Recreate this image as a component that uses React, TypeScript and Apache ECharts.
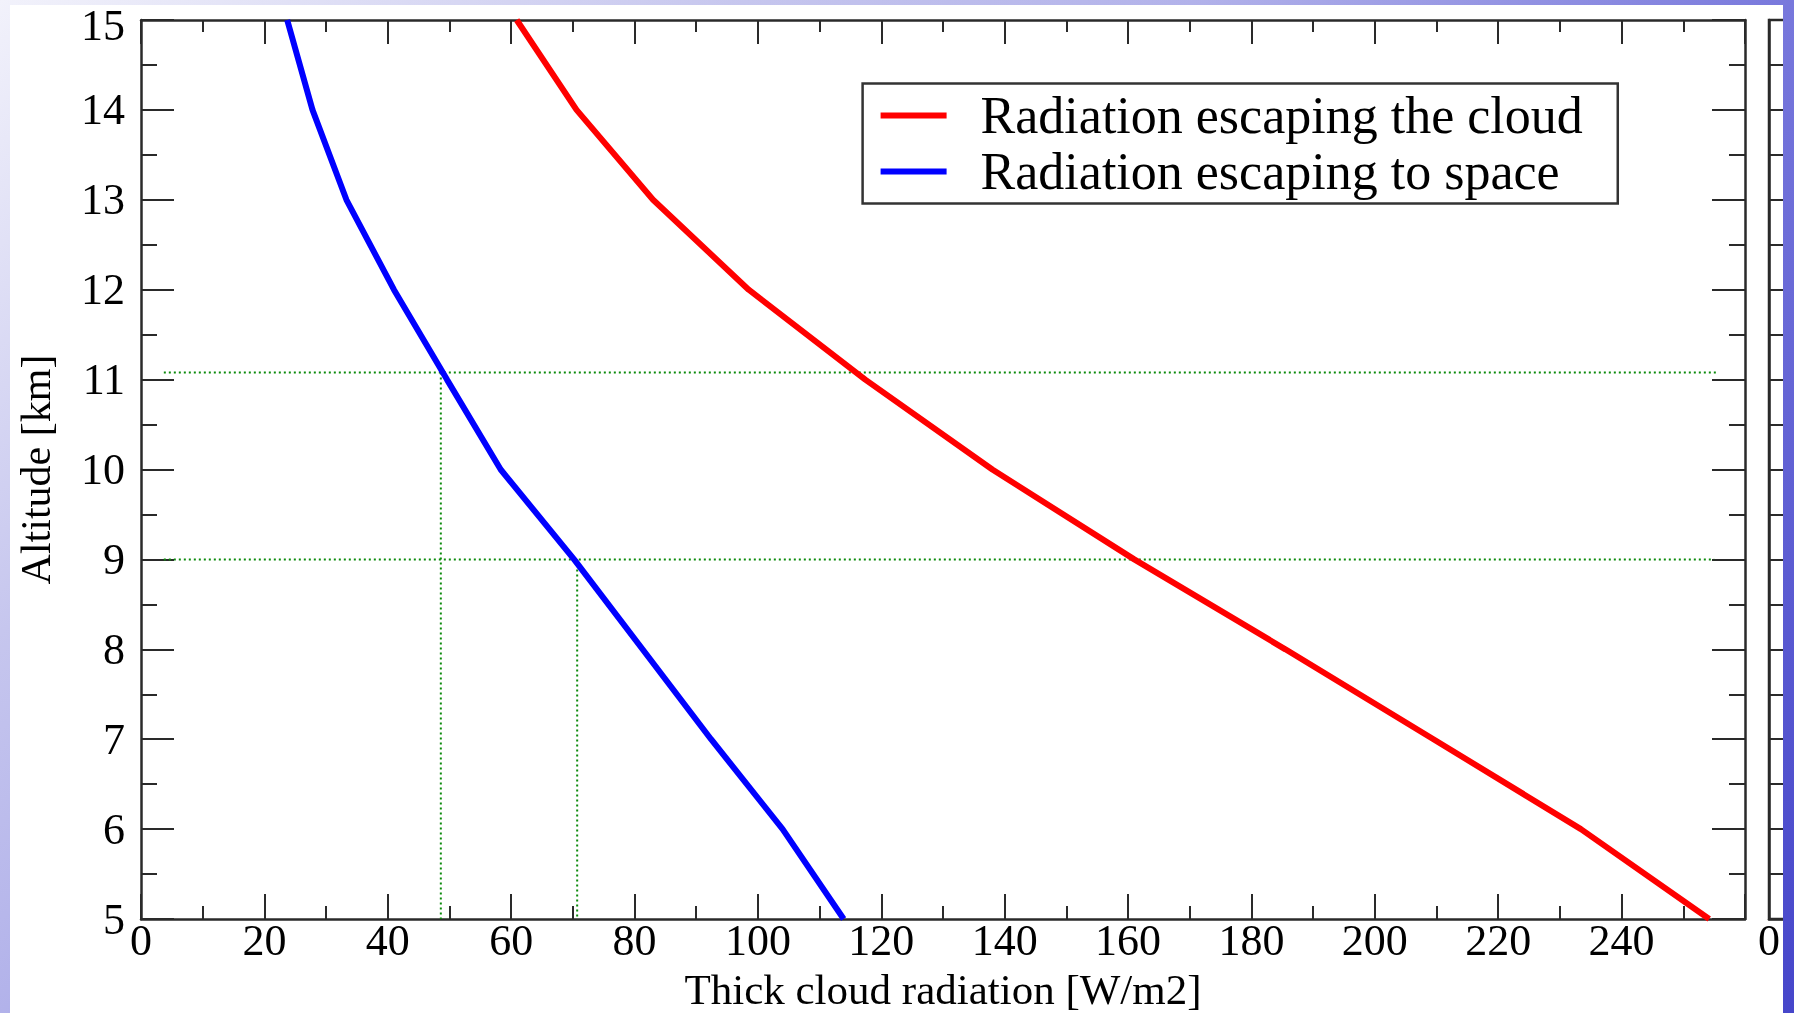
import React, { useEffect, useRef } from "react";
import * as echarts from "echarts";

// Altitude levels [km]
const ALTITUDE = [15, 14, 13, 12, 11, 10, 9, 8, 7, 6, 5];
// Radiation escaping the cloud [W/m2]
const CLOUD = [60.9, 70.6, 83.0, 98.5, 117.4, 138.0, 161.0, 185.5, 209.5, 233.4, 254.2];
// Radiation escaping to space [W/m2]
const SPACE = [23.7, 27.8, 33.3, 41.0, 49.6, 58.3, 70.2, 81.3, 92.4, 104.0, 113.9];

const SERIES_NAMES = ["Radiation escaping the cloud", "Radiation escaping to space"];

// Green dotted guide lines
const GUIDE_ALT = [11.08, 9.0];
const GUIDE_X = [48.6, 70.7];
const GUIDE_H_START = [3.7, 3.7];
const GUIDE_H_END = [255.6, 255.0];

const X_MIN = 0;
const X_MAX = 260;
const X_STEP = 20;
const Y_MIN = 5;
const Y_MAX = 15;
const Y_STEP = 1;

const FONT = "'Liberation Serif', 'Times New Roman', serif";
const AXIS_COLOR = "#2a2a2a";
const TICK_FONT = 44;

export default function App() {
  const ref = useRef<HTMLDivElement>(null);

  useEffect(() => {
    if (!ref.current) return;
    const chart = echarts.init(ref.current, null, { renderer: "svg", width: 1794, height: 1013 });

    const bgGradient = () =>
      new echarts.graphic.LinearGradient(
        0,
        0,
        1249,
        1475,
        [
          { offset: 0, color: "#f2f2fb" },
          { offset: 0.25, color: "#c6c6ee" },
          { offset: 0.4, color: "#b2b2ea" },
          { offset: 0.6, color: "#7878dc" },
          { offset: 1, color: "#4646ca" },
        ],
        true
      );

    const lineAxisStyle = { show: true, onZero: false, lineStyle: { color: AXIS_COLOR, width: 2.5 } };
    const tickStyle = { color: AXIS_COLOR, width: 2 };

    const guideSeries: any[] = [];
    GUIDE_ALT.forEach((a, i) => {
      guideSeries.push({
        type: "line",
        data: [
          [GUIDE_H_START[i], a],
          [GUIDE_H_END[i], a],
        ],
        symbol: "none",
        silent: true,
        lineStyle: { color: "#0b8a0b", width: 2, type: [2, 3] },
        z: 1,
      });
      guideSeries.push({
        type: "line",
        data: [
          [GUIDE_X[i], a],
          [GUIDE_X[i], Y_MIN],
        ],
        symbol: "none",
        silent: true,
        lineStyle: { color: "#0b8a0b", width: 2, type: [2, 3] },
        z: 1,
      });
    });

    const option: any = {
      animation: false,
      backgroundColor: "transparent",
      textStyle: { fontFamily: FONT },
      graphic: [
        {
          type: "rect",
          z: -10,
          silent: true,
          shape: { x: 0, y: 0, width: 1794, height: 1013 },
          style: { fill: bgGradient() },
        },
        {
          type: "rect",
          z: -9,
          silent: true,
          shape: { x: 10, y: 5, width: 1773, height: 1008 },
          style: { fill: "#ffffff" },
        },
        {
          type: "rect",
          z: 100,
          silent: true,
          shape: { x: 1783, y: 0, width: 11, height: 1013 },
          style: { fill: bgGradient() },
        },
      ],
      legend: {
        data: SERIES_NAMES,
        orient: "vertical",
        left: 862.6,
        top: 83.5,
        padding: [6, 16, 6, 18],
        itemGap: 4,
        itemWidth: 66,
        itemHeight: 6,
        icon: "rect",
        borderColor: "#333",
        borderWidth: 2.5,
        borderRadius: 0,
        backgroundColor: "#ffffff",
        formatter: (name: string) => `{t|${name}}`,
        textStyle: {
          rich: {
            t: {
              fontFamily: FONT,
              fontSize: 52,
              lineHeight: 48,
              color: "#000",
              padding: [0, 19, 0, 29],
            },
          },
        },
      },
      grid: [
        { left: 141, top: 20, right: 49, bottom: 94, show: false, outerBoundsMode: "none", containLabel: false },
        {
          left: 1769,
          top: 20,
          width: 400,
          bottom: 94,
          show: true,
          borderColor: AXIS_COLOR,
          borderWidth: 2.5,
          backgroundColor: "transparent",
          outerBoundsMode: "none",
          containLabel: false,
        },
      ],
      xAxis: [
        {
          type: "value",
          gridIndex: 0,
          position: "bottom",
          min: X_MIN,
          max: X_MAX,
          interval: X_STEP,
          name: "Thick cloud radiation [W/m2]",
          nameLocation: "middle",
          nameGap: 50,
          nameMoveOverlap: false,
          nameTextStyle: { fontFamily: FONT, fontSize: 43, lineHeight: 40, color: "#000" },
          axisLine: lineAxisStyle,
          axisTick: { show: true, inside: true, length: 25, lineStyle: tickStyle },
          minorTick: { show: true, splitNumber: 2, length: 13, lineStyle: tickStyle },
          axisLabel: {
            fontFamily: FONT,
            fontSize: TICK_FONT,
            lineHeight: 38,
            color: "#000",
            margin: 2.5,
            showMaxLabel: false,
          },
          splitLine: { show: false },
        },
        {
          type: "value",
          gridIndex: 0,
          position: "top",
          min: X_MIN,
          max: X_MAX,
          interval: X_STEP,
          axisLine: lineAxisStyle,
          axisTick: { show: true, inside: true, length: 24, lineStyle: tickStyle },
          minorTick: { show: true, splitNumber: 2, length: 12, lineStyle: tickStyle },
          axisLabel: { show: false },
          splitLine: { show: false },
        },
        {
          type: "value",
          gridIndex: 1,
          position: "bottom",
          min: 0,
          max: 100,
          interval: 100,
          axisLine: lineAxisStyle,
          axisTick: { show: false },
          axisLabel: {
            fontFamily: FONT,
            fontSize: TICK_FONT,
            lineHeight: 38,
            color: "#000",
            margin: 2.5,
            showMaxLabel: false,
          },
          splitLine: { show: false },
        },
      ],
      yAxis: [
        {
          type: "value",
          gridIndex: 0,
          position: "left",
          min: Y_MIN,
          max: Y_MAX,
          interval: Y_STEP,
          name: "Altitude [km]",
          nameLocation: "middle",
          nameGap: 84,
          nameMoveOverlap: false,
          nameTextStyle: { fontFamily: FONT, fontSize: 42, color: "#000" },
          axisLine: lineAxisStyle,
          axisTick: { show: true, inside: true, length: 33, lineStyle: tickStyle },
          minorTick: { show: true, splitNumber: 2, length: 16, lineStyle: tickStyle },
          axisLabel: {
            fontFamily: FONT,
            fontSize: TICK_FONT,
            lineHeight: 38,
            color: "#000",
            margin: 16,
            formatter: (v: number) => (v === Y_MAX ? `{top|${v}}` : `${v}`),
            rich: {
              top: {
                fontFamily: FONT,
                fontSize: TICK_FONT,
                lineHeight: 38,
                color: "#000",
                padding: [10, 0, 0, 0],
              },
            },
          },
          splitLine: { show: false },
        },
        {
          type: "value",
          gridIndex: 0,
          position: "right",
          min: Y_MIN,
          max: Y_MAX,
          interval: Y_STEP,
          axisLine: lineAxisStyle,
          axisTick: { show: true, inside: true, length: 33, lineStyle: tickStyle },
          minorTick: { show: true, splitNumber: 2, length: 16, lineStyle: tickStyle },
          axisLabel: { show: false },
          splitLine: { show: false },
        },
        {
          type: "value",
          gridIndex: 1,
          position: "left",
          min: Y_MIN,
          max: Y_MAX,
          interval: Y_STEP,
          axisLine: lineAxisStyle,
          axisTick: { show: true, inside: true, length: 33, lineStyle: tickStyle },
          minorTick: { show: true, splitNumber: 2, length: 16, lineStyle: tickStyle },
          axisLabel: { show: false },
          splitLine: { show: false },
        },
      ],
      series: [
        ...guideSeries,
        {
          name: SERIES_NAMES[0],
          type: "line",
          xAxisIndex: 0,
          yAxisIndex: 0,
          data: ALTITUDE.map((a, i) => [CLOUD[i], a]),
          symbol: "none",
          color: "#ff0000",
          lineStyle: { color: "#ff0000", width: 6 },
          z: 3,
        },
        {
          name: SERIES_NAMES[1],
          type: "line",
          xAxisIndex: 0,
          yAxisIndex: 0,
          data: ALTITUDE.map((a, i) => [SPACE[i], a]),
          symbol: "none",
          color: "#0000ff",
          lineStyle: { color: "#0000ff", width: 6 },
          z: 3,
        },
      ],
    };

    chart.setOption(option);
    return () => chart.dispose();
  }, []);

  return (
    <div
      ref={ref}
      style={{ position: "fixed", left: 0, top: 0, width: 1794, height: 1013 }}
    />
  );
}
